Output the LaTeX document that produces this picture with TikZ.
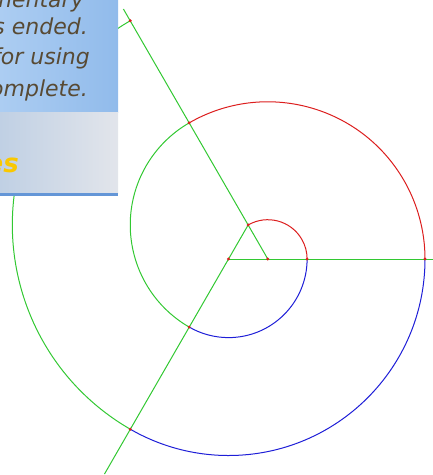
\documentclass[tikz,border=0pt]{standalone}
\usepackage{fontspec}
\newfontfamily\popfont{DejaVu Sans}
\definecolor{spred}{RGB}{220,30,30}
\definecolor{spblue}{RGB}{30,30,215}
\definecolor{spgreen}{RGB}{50,200,50}
\definecolor{popblue}{RGB}{145,187,235}
\definecolor{popbluel}{RGB}{172,205,242}
\definecolor{popgrey}{RGB}{192,208,228}
\definecolor{popgreyr}{RGB}{226,229,235}
\definecolor{popedge}{RGB}{100,150,215}
\definecolor{poptext}{RGB}{88,74,52}
\definecolor{popgold}{RGB}{250,200,0}
\usetikzlibrary{calc}

\begin{document}
\begin{tikzpicture}[x=1pt, y=1pt,
  ray/.style={spgreen, line width=1pt},
  turn/.style={line width=1pt},
  dot/.style={fill=spred},
  poptxt/.style={anchor=base east, inner sep=0pt, font=\popfont\itshape\fontsize{22}{26}\selectfont, text=poptext}
]
  \useasboundingbox (0,0) rectangle (433,-475);

  %% Triangle vertices
  \coordinate (A) at (228.5,-259);
  \coordinate (B) at (267.8,-259);
  \coordinate (C) at (248.15,-224.97);

  %% Rays along the sides
  \coordinate (rAB) at (433,-259);
  \coordinate (rBC) at (123.4,-9);
  \coordinate (rCA) at (104.5,-474);
  \draw[ray] (A) -- (rAB);
  \draw[ray] (B) -- (rBC);
  \draw[ray] (C) -- (rCA);

  %% Spiral arcs
  \draw[turn, spred]   (C)  arc[start angle=120, end angle=0,    radius=39.3]  coordinate (P1);
  \draw[turn, spblue]  (P1) arc[start angle=0,   end angle=-120, radius=78.6]  coordinate (P2);
  \draw[turn, spgreen] (P2) arc[start angle=240, end angle=120,  radius=117.9] coordinate (P3);
  \draw[turn, spred]   (P3) arc[start angle=120, end angle=0,    radius=157.2] coordinate (P4);
  \draw[turn, spblue]  (P4) arc[start angle=0,   end angle=-120, radius=196.5] coordinate (P5);
  \draw[turn, spgreen] (P5) arc[start angle=240, end angle=120,  radius=235.8] coordinate (P6);

  %% Points
  \fill[dot] (A)  circle (1.6);
  \fill[dot] (B)  circle (1.6);
  \fill[dot] (C)  circle (1.6);
  \fill[dot] (P1) circle (1.6);
  \fill[dot] (P2) circle (1.6);
  \fill[dot] (P3) circle (1.6);
  \fill[dot] (P4) circle (1.6);
  \fill[dot] (P5) circle (1.6);
  \fill[dot] (P6) circle (1.6);

  %% Popup window
  \shade[left color=popbluel, right color=popblue] (0,0) rectangle (118,-112);
  \shade[left color=popgrey, right color=popgreyr] (0,-112) rectangle (118,-193);
  \fill[popedge] (0,-193) rectangle (118,-196);
  \node[poptxt] (msga) at (84,-7)  {mentary};
  \node[poptxt] (msgb) at (88,-34) {s ended.};
  \node[poptxt] (msgc) at (90,-64) {for using};
  \node[poptxt] (msgd) at (88,-96) {omplete.};
  \node[anchor=base east, inner sep=0pt, font=\popfont\bfseries\itshape\fontsize{26}{30}\selectfont, text=popgold] (link) at (19,-172) {es};
\end{tikzpicture}
\end{document}
